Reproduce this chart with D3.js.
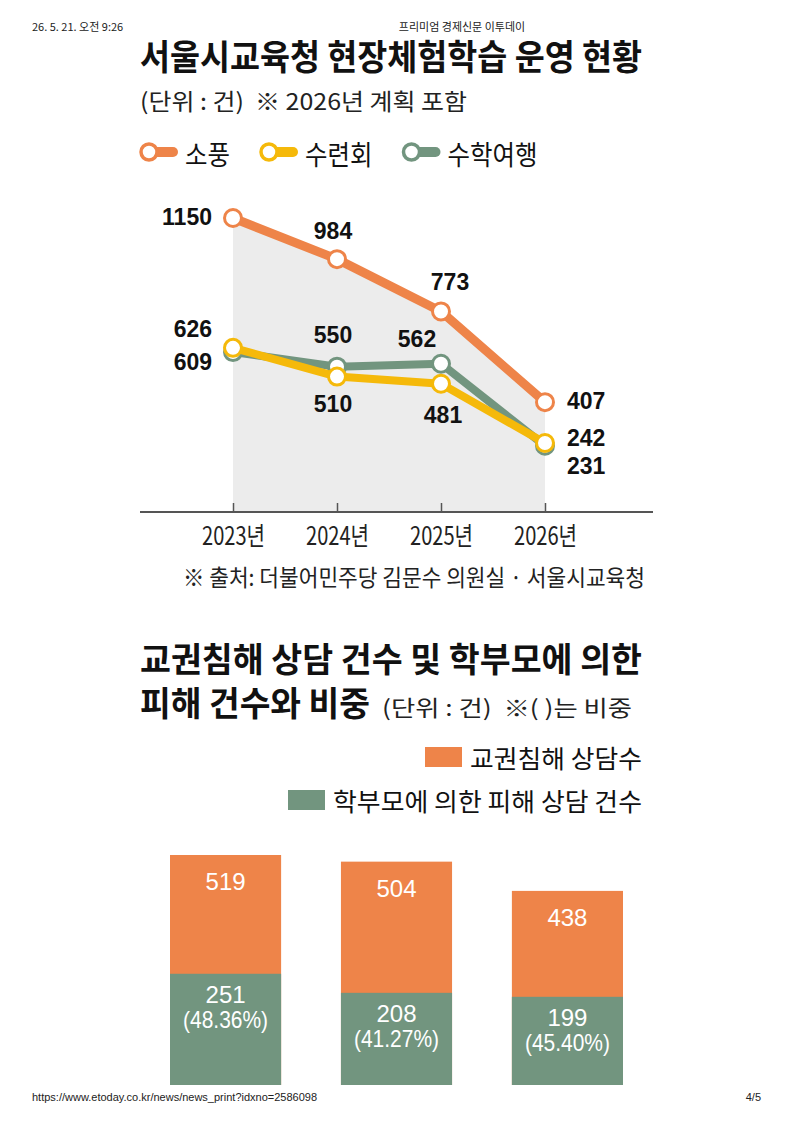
<!DOCTYPE html>
<html>
<head>
	<meta charset="utf-8">
	<title>현장체험학습 / 교권침해</title>
	<script src="https://d3js.org/d3.v7.min.js"></script>
	<style>
		body{ margin:0; background:#fff;}
		text{ font-family:'Noto Sans CJK KR', sans-serif; white-space:pre;}
		.num{ font-family:'Liberation Sans', Arial, sans-serif;}
	</style>
</head>
<body>
	<div class="chart"></div>
	<script>
		// line chart data
		const years = ['2023년','2024년','2025년','2026년'];
		const seriesNames = ['소풍','수련회','수학여행'];
		const sopung = [1150,984,773,407];
		const suryeon = [626,510,481,242];
		const suhak = [609,550,562,231];

		// bar chart data
		const barKeys = ['b1','b2','b3'];
		const counselTotal = [519,504,438];
		const parentCases = [251,208,199];
		const parentShare = ['48.36%','41.27%','45.40%'];
		const barLegend = ['교권침해 상담수','학부모에 의한 피해 상담 건수'];

		const orange = '#EE8449', yellow = '#F5B90A', green = '#72957F';
		const colors = {'소풍':orange,'수련회':yellow,'수학여행':green};
		const values = {'소풍':sopung,'수련회':suryeon,'수학여행':suhak};

		const svg = d3.select('.chart').append('svg')
			.attr('width',793).attr('height',1122)

		// page header / footer
		svg.append('text').attr('x',32).attr('y',31).attr('font-size',11).attr('fill','#222').text('26. 5. 21. 오전 9:26')
		svg.append('text').attr('x',462).attr('y',31).attr('font-size',11).attr('fill','#222').attr('text-anchor','middle').text('프리미엄 경제신문 이투데이')
		svg.append('text').attr('class','num').attr('x',32).attr('y',1101).attr('font-size',11).attr('fill','#222').text('https://www.etoday.co.kr/news/news_print?idxno=2586098')
		svg.append('text').attr('class','num').attr('x',761).attr('y',1101).attr('font-size',11).attr('fill','#222').attr('text-anchor','end').text('4/5')

		function squeeze(sel, w){
			return sel.attr('textLength',w).attr('lengthAdjust','spacingAndGlyphs')
		}

		// ---------- line chart ----------
		squeeze(svg.append('text').attr('x',140).attr('y',70).attr('font-size',35).attr('font-weight',700).attr('fill','#111')
			.text('서울시교육청 현장체험학습 운영 현황'),502)
		squeeze(svg.append('text').attr('x',140).attr('y',110).attr('font-size',23).attr('fill','#222')
			.text('(단위 : 건)  ※ 2026년 계획 포함'),327)

		// legend
		let lx = 140;
		seriesNames.forEach(name => {
			const g = svg.append('g')
			g.append('rect').attr('x',lx+10).attr('y',147).attr('width',28).attr('height',10).attr('rx',5).attr('fill',colors[name])
			g.append('circle').attr('cx',lx+9).attr('cy',152).attr('r',8).attr('fill','#fff').attr('stroke',colors[name]).attr('stroke-width',3.5)
			const w = name.length*22.5
			squeeze(g.append('text').attr('x',lx+45).attr('y',165).attr('font-size',27).attr('fill','#111').text(name),w)
			lx += 45 + w + 30
		})

		const axisY = 512;
		let x = d3.scalePoint().domain(years).range([233,545])
		let y = d3.scaleLinear().domain([0,1150]).range([503,218])

		const plot = svg.append('g')

		const area = d3.area().x((d,i)=>x(years[i])).y0(axisY).y1(d=>y(d))
		plot.append('path').datum(sopung).attr('d',area).attr('fill','#ECECEC')

		plot.append('line').attr('x1',140).attr('x2',653).attr('y1',axisY).attr('y2',axisY).attr('stroke','#555').attr('stroke-width',2)

		const xAxis = d3.axisBottom(x).tickSize(-9).tickPadding(15)
		const ax = plot.append('g').attr('transform',`translate(0,${axisY})`).call(xAxis)
		ax.select('.domain').remove()
		ax.selectAll('.tick line').attr('stroke','#555').attr('stroke-width',1.5)
		ax.selectAll('.tick text').attr('font-family',"'Noto Sans CJK KR', sans-serif").attr('font-size',25).attr('fill','#222')
			.attr('y',0).attr('dy',33)
		squeeze(ax.selectAll('.tick text'),63)

		const line = d3.line().x((d,i)=>x(years[i])).y(d=>y(d))

		// draw order: green under yellow under orange
		const drawOrder = ['수학여행','수련회','소풍'];
		drawOrder.forEach(name => {
			const s = plot.append('g')
			s.append('path').datum(values[name]).attr('d',line).attr('fill','none')
				.attr('stroke',colors[name]).attr('stroke-width',name==='소풍'?9:8).attr('stroke-linejoin','round')
			s.selectAll('circle').data(values[name]).join('circle')
				.attr('cx',(d,i)=>x(years[i])).attr('cy',d=>y(d)).attr('r',8.5)
				.attr('fill','#fff').attr('stroke',colors[name]).attr('stroke-width',3)
		})

		// value label placement [anchor, dx, dy] per series point
		const labelPos = {
			'소풍':[['end',-21,7],['middle',-4,-20],['middle',9,-21],['start',22,7]],
			'수련회':[['end',-21,-11],['middle',-4,35],['middle',2,39],['start',22,3]],
			'수학여행':[['end',-21,18],['middle',-4,-24],['middle',-24,-17],['start',22,28]]
		}
		seriesNames.forEach(name => {
			plot.selectAll(null).data(values[name]).join('text').attr('class','num')
				.attr('x',(d,i)=>x(years[i])+labelPos[name][i][1])
				.attr('y',(d,i)=>y(d)+labelPos[name][i][2])
				.attr('text-anchor',(d,i)=>labelPos[name][i][0])
				.attr('font-size',23).attr('font-weight',700).attr('fill','#111')
				.text(d=>d)
		})

		squeeze(svg.append('text').attr('x',183).attr('y',586).attr('font-size',23).attr('fill','#222')
			.text('※ 출처: 더불어민주당 김문수 의원실 · 서울시교육청'),462)

		// ---------- bar chart ----------
		squeeze(svg.append('text').attr('x',140).attr('y',672).attr('font-size',34).attr('font-weight',700).attr('fill','#111')
			.text('교권침해 상담 건수 및 학부모에 의한'),502)
		squeeze(svg.append('text').attr('x',140).attr('y',716).attr('font-size',34).attr('font-weight',700).attr('fill','#111')
			.text('피해 건수와 비중'),230)
		squeeze(svg.append('text').attr('x',382).attr('y',716).attr('font-size',22).attr('fill','#222')
			.text('(단위 : 건)  ※( )는 비중'),250)

		const legCol = [orange, green];
		const legW = [172, 309];
		barLegend.forEach((t,i) => {
			const by = 768 + i*43
			const tx = 642 - legW[i]
			svg.append('rect').attr('x',tx-45).attr('y',by-21).attr('width',37).attr('height',20).attr('fill',legCol[i])
			squeeze(svg.append('text').attr('x',tx).attr('y',by).attr('font-size',25).attr('fill','#111').text(t),legW[i])
		})

		let bx = d3.scaleBand().domain(barKeys).range([170,623]).paddingInner(0.35).paddingOuter(0)
		let by = d3.scaleLinear().domain([0,519]).range([1085,855])

		const bars = svg.append('g')
		bars.selectAll('.tot').data(counselTotal).join('rect').attr('class','tot')
			.attr('x',(d,i)=>bx(barKeys[i])).attr('width',bx.bandwidth())
			.attr('y',d=>by(d)).attr('height',d=>by(0)-by(d)).attr('fill',orange)
		bars.selectAll('.par').data(parentCases).join('rect').attr('class','par')
			.attr('x',(d,i)=>bx(barKeys[i])).attr('width',bx.bandwidth())
			.attr('y',d=>by(d)).attr('height',d=>by(0)-by(d)).attr('fill',green)

		const cx = i => bx(barKeys[i]) + bx.bandwidth()/2
		bars.selectAll('.tl').data(counselTotal).join('text').attr('class','num tl')
			.attr('x',(d,i)=>cx(i)).attr('y',d=>by(d)+35).attr('text-anchor','middle')
			.attr('font-size',24).attr('fill','#fff').text(d=>d)
		bars.selectAll('.pl').data(parentCases).join('text').attr('class','num pl')
			.attr('x',(d,i)=>cx(i)).attr('y',d=>by(d)+29).attr('text-anchor','middle')
			.attr('font-size',24).attr('fill','#fff').text(d=>d)
		squeeze(bars.selectAll('.sl').data(parentShare).join('text').attr('class','num sl')
			.attr('x',(d,i)=>cx(i)).attr('y',(d,i)=>by(parentCases[i])+54).attr('text-anchor','middle')
			.attr('font-size',24).attr('fill','#fff').text(d=>'('+d+')'),85)
	</script>
</body>
</html>
